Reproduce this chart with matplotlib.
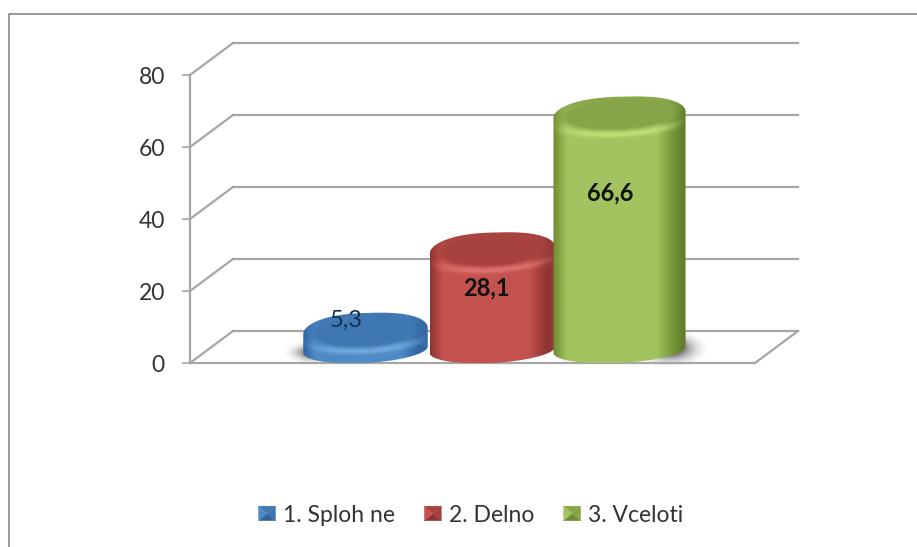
import numpy as np
import matplotlib
matplotlib.use('Agg')
import matplotlib.pyplot as plt
from matplotlib.colors import LinearSegmentedColormap, to_rgb
from matplotlib.lines import Line2D
from matplotlib.patches import Patch, PathPatch, Polygon
from matplotlib.path import Path
from matplotlib.legend_handler import HandlerBase

plt.rcParams['font.family'] = ['Lato', 'DejaVu Sans']

# data
categories = ['1. Sploh ne', '2. Delno', '3. Vceloti']
values = [5.3, 28.1, 66.6]
value_labels = ['5,3', '28,1', '66,6']
y_ticks = [0, 20, 40, 60, 80]

# colours: edge, centre, right edge, top face, rim
palette = [
    ['#2f659f', '#4f8ac6', '#356ba5', '#3f77b3', '#78acE2'],
    ['#8f3533', '#c4524f', '#96393a', '#a8423f', '#e07672'],
    ['#6f8c33', '#a2c35f', '#5f7a2c', '#87a548', '#c4e27c'],
]
half_width = [0.49, 0.495, 0.52]

W, H = 917, 547
fig = plt.figure(figsize=(W / 100, H / 100), dpi=100)
ax = fig.add_axes([190 / W, 1 - 363 / H, 565 / W, 288 / H])

px_x = 127.0
px_y = 3.6
ax.patch.set_alpha(0)
grey = '#a6a6a6'

for s in ['top', 'right']:
    ax.spines[s].set_visible(False)
for s in ['left', 'bottom']:
    ax.spines[s].set_color(grey)
    ax.spines[s].set_linewidth(1.6)

x0 = -175.5 / px_x
x1 = 389.5 / px_x
depth_x = 43 / px_x
depth_y = 32 / px_y


def blob(xc, yc, w, h, strength):
    yy, xx = np.mgrid[-1:1:60j, -1:1:60j]
    img = np.zeros((60, 60, 4))
    img[..., :3] = 0.25
    img[..., 3] = strength * np.clip(np.exp(-(xx**2 + yy**2) * 3) - np.exp(-3), 0, 1)
    ax.imshow(img, extent=[xc - w, xc + w, yc - h, yc + h], aspect='auto',
              zorder=2.5, interpolation='bilinear', clip_on=False)


def cylinder(xc, value, a, cols, z):
    b_top = 5.0
    b_base = 3.7
    tilt = 0.9
    base = 3.7
    top = base + value * 0.98

    # outline: lower half of the base, squarer upper half of the top
    t1 = np.linspace(np.pi, 2 * np.pi, 80)
    t2 = np.linspace(0, np.pi, 80)
    bx = xc + a * np.cos(t1)
    by = base + b_base * np.sin(t1) + tilt * np.cos(t1)
    tx = xc + a * np.sign(np.cos(t2)) * np.abs(np.cos(t2)) ** 0.8
    ty = top + b_top * np.sin(t2) + tilt * np.cos(t2)
    verts = np.column_stack([np.r_[bx, tx], np.r_[by, ty]])
    path = Path(np.vstack([verts, verts[0]]), closed=True)

    cmap = LinearSegmentedColormap.from_list(
        'body', [(0, cols[0]), (0.1, cols[1]), (0.45, cols[1]), (0.78, cols[1]), (0.93, cols[0]), (1, cols[2])])

    y_lo, y_hi = base - 6, top + 8
    Y, X = np.mgrid[y_hi:y_lo:420j, xc - a:xc + a:260j]
    dx = (X - xc) / a
    rgb = cmap((dx + 1) / 2)[..., :3]

    # top face and soft rim, worked out from the distance to the ellipse centre
    dy = (Y - top - tilt * dx) / b_top
    r = np.sqrt(dx**2 + dy**2)
    face = np.clip((1.0 - r) / 0.25, 0, 1)
    face = face * face * (3 - 2 * face)
    face = np.where(dy > 0, np.maximum(face, 0.9 * (1 - np.abs(dx) ** 6)), face)
    ring = np.exp(-((r - 1.12) / 0.16) ** 2) * np.clip(-dy * 1.5, 0, 1) * (1 - np.abs(dx) ** 3)
    ftop = np.array(to_rgb(cols[3]))
    frim = np.array(to_rgb(cols[4]))
    rgb = rgb * (1 - 0.9 * ring[..., None]) + frim * 0.9 * ring[..., None]
    rgb = rgb * (1 - face[..., None]) + ftop * face[..., None]

    im = ax.imshow(rgb, extent=[xc - a, xc + a, y_lo, y_hi], aspect='auto', zorder=z, interpolation='bilinear')
    im.set_clip_path(PathPatch(path, transform=ax.transData))


# back wall and floor
for v in y_ticks:
    ax.plot([x0, x0 + depth_x, x1 + depth_x], [v, v + depth_y, v + depth_y],
            color=grey, lw=1.6, clip_on=False, zorder=1, solid_joinstyle='miter')
ax.plot([x1, x1 + depth_x], [0, depth_y], color=grey, lw=1.6, clip_on=False, zorder=1)

blob(-0.4, 2.8, 0.25, 3.4, 0.9)
blob(2.4, 4.0, 0.3, 5.4, 1.0)

for i, v in enumerate(values):
    cylinder(i, v, half_width[i], palette[i], 3 + i)

ax.set_xlim(x0, x1)
ax.set_ylim(0, 80)
ax.set_xticks([])
ax.set_yticks(y_ticks)
ax.tick_params(axis='y', length=6, width=1.2, color=grey, pad=12, labelsize=16.5, labelcolor='#333333')

ax.text(-0.15, 11.9, value_labels[0], ha='center', va='center', fontsize=17, color='#16304f', zorder=10)
ax.text(0.955, 20.8, value_labels[1], ha='center', va='center', fontsize=17, fontweight='bold', color='#111111', zorder=10)
ax.text(1.93, 47.2, value_labels[2], ha='center', va='center', fontsize=17, fontweight='bold', color='#111111', zorder=10)


class HandlerPyramid(HandlerBase):
    def create_artists(self, legend, orig, xd, yd, width, height, fontsize, trans):
        cols = orig.cols
        l, r = -xd, -xd + width
        b, t = -yd, -yd + height
        mx, my = (l + r) / 2, (b + t) / 2
        tris = [([l, b], [r, b], cols[0]), ([l, t], [r, t], cols[3]),
                ([l, b], [l, t], cols[1]), ([r, b], [r, t], cols[3])]
        return [Polygon([p, q, [mx, my]], closed=True, facecolor=c, edgecolor=c, lw=0.3, transform=trans)
                for p, q, c in tris]


handles = []
for i, c in enumerate(categories):
    h = Patch(label=c)
    h.cols = palette[i]
    handles.append(h)
leg = fig.legend(handles=handles, loc='center', bbox_to_anchor=(471 / W, 1 - 515 / H), ncol=3,
                 frameon=False, fontsize=16.5, handler_map={Patch: HandlerPyramid()},
                 handlelength=0.74, handleheight=0.6, handletextpad=0.34, columnspacing=1.27,
                 labelcolor='#333333')

# chart frame, cut off at the right and bottom of the picture
fig.add_artist(Line2D([9 / W, 9 / W, 1], [0, 1 - 13.5 / H, 1 - 13.5 / H], color='#999999', lw=1.4))

fig.savefig('out.png', dpi=100)
